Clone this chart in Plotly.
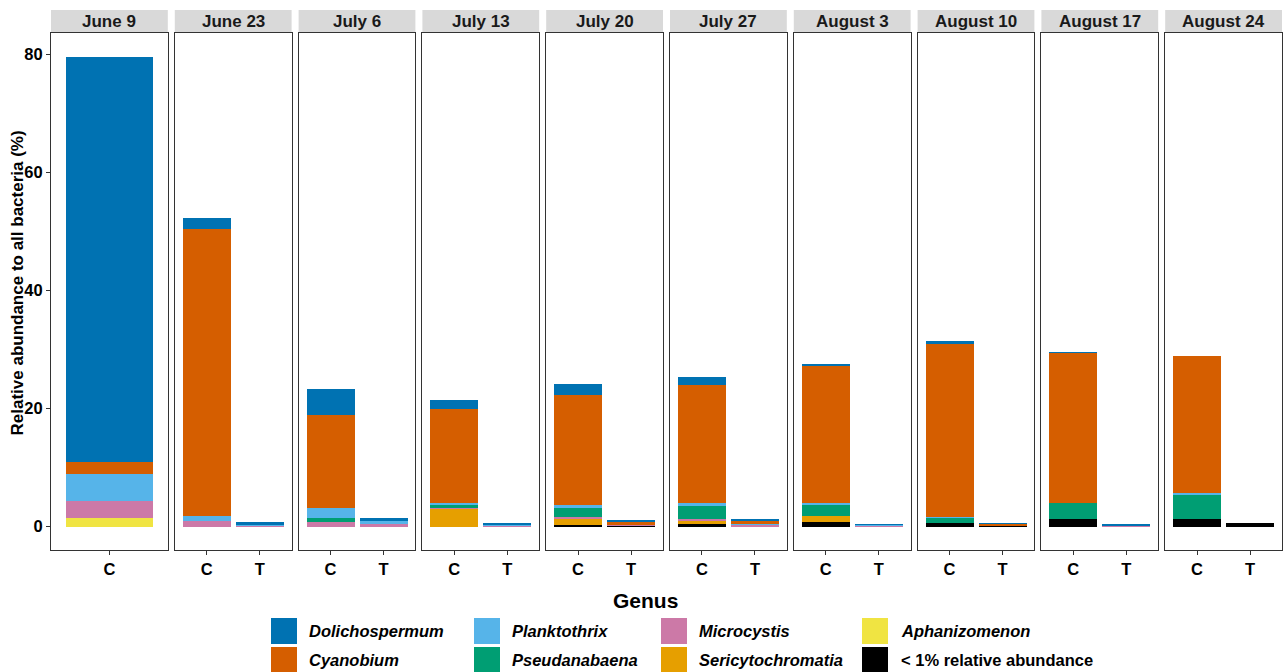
import plotly.graph_objects as go

# ---------------- data ----------------
dates = ["June 9", "June 23", "July 6", "July 13", "July 20", "July 27",
         "August 3", "August 10", "August 17", "August 24"]
treatments = [["C"]] + [["C", "T"]] * 9

# bar order: J9C, J23C, J23T, J6C, J6T, J13C, J13T, J20C, J20T, J27C, J27T,
#            A3C, A3T, A10C, A10T, A17C, A17T, A24C, A24T
genera = ["< 1% relative abundance", "Aphanizomenon", "Sericytochromatia", "Microcystis",
          "Pseudanabaena", "Planktothrix", "Cyanobium", "Dolichospermum"]

low_abund = [0, 0, 0, 0, 0, 0, 0, 0.3, 0.1, 0.5, 0.05, 0.7, 0, 0.6, 0.2, 1.25, 0.05, 1.2, 0.55]
aphanizomenon = [1.4, 0, 0, 0, 0, 0, 0, 0, 0, 0, 0, 0, 0, 0, 0, 0, 0, 0, 0]
sericytochromatia = [0, 0, 0, 0, 0, 3.05, 0, 1.05, 0, 0.45, 0, 1.0, 0, 0, 0, 0, 0, 0, 0]
microcystis = [3.0, 0.9, 0.15, 0.7, 0.5, 0.25, 0.2, 0.3, 0.15, 0.35, 0.25, 0, 0.2, 0, 0.05, 0, 0.15, 0, 0]
pseudanabaena = [0, 0, 0, 0.7, 0, 0.3, 0, 1.4, 0, 2.15, 0, 2.0, 0, 0.85, 0, 2.75, 0, 4.3, 0]
planktothrix = [4.45, 0.8, 0.05, 1.65, 0.4, 0.45, 0.1, 0.65, 0, 0.6, 0.1, 0.3, 0.15, 0.15, 0, 0.05, 0, 0.15, 0]
cyanobium = [2.05, 48.7, 0, 15.9, 0, 15.9, 0, 18.5, 0.6, 19.9, 0.65, 23.1, 0, 29.45, 0.25, 25.35, 0, 23.2, 0]
dolichospermum = [68.7, 1.9, 0.5, 4.35, 0.6, 1.45, 0.35, 1.9, 0.2, 1.35, 0.15, 0.4, 0.05, 0.3, 0.05, 0.15, 0.1, 0, 0]

series = [low_abund, aphanizomenon, sericytochromatia, microcystis,
          pseudanabaena, planktothrix, cyanobium, dolichospermum]
colors = {"Dolichospermum": "#0072B2", "Cyanobium": "#D55E00", "Planktothrix": "#56B4E9",
          "Pseudanabaena": "#009E73", "Microcystis": "#CC79A7", "Sericytochromatia": "#E69F00",
          "Aphanizomenon": "#F0E442", "< 1% relative abundance": "#000000"}

# legend layout (ggplot column-major order)
legend_order = ["Dolichospermum", "Cyanobium", "Planktothrix", "Pseudanabaena",
                "Microcystis", "Sericytochromatia", "Aphanizomenon", "< 1% relative abundance"]

y_ticks = [0, 20, 40, 60, 80]

# ---------------- layout geometry ----------------
W, H = 1283, 672
FONT = "Liberation Sans, Arial, sans-serif"
panel_left0, panel_w, gap = 51, 116.8, 7.0
panel_top, panel_bottom = 33, 550
strip_top = 10

def px_x(p):
    return p / W

def px_y(p):
    return (H - p) / H

fig = go.Figure()

idx = 0
panel_slices = []
for d, trs in zip(dates, treatments):
    panel_slices.append((idx, idx + len(trs)))
    idx += len(trs)

for pi, (d, trs) in enumerate(zip(dates, treatments)):
    s0, s1 = panel_slices[pi]
    xs = list(range(1, len(trs) + 1))
    ax = "" if pi == 0 else str(pi + 1)
    for g, vals in zip(genera, series):
        v = vals[s0:s1]
        fig.add_trace(go.Bar(
            x=xs, y=v, width=0.9, name=g,
            marker=dict(color=colors[g], line=dict(width=0)),
            showlegend=False,
            xaxis="x" + ax, yaxis="y" + ax,
            hovertemplate=d + " %{x}<br>" + g + ": %{y}<extra></extra>",
        ))

    left = panel_left0 + pi * (panel_w + gap)
    right = left + panel_w
    n = len(trs)
    xaxis = dict(
        domain=[px_x(left), px_x(right)],
        range=[0.4, n + 0.6],
        tickvals=xs, ticktext=trs,
        tickfont=dict(family=FONT, size=16.5, color="#000000", weight="bold"),
        ticks="outside", ticklen=4, tickcolor="#333333", tickwidth=1,
        showline=True, mirror=True, linecolor="#333333", linewidth=1,
        showgrid=False, zeroline=False, fixedrange=True,
        anchor="y" + ax,
    )
    yaxis = dict(
        domain=[px_y(panel_bottom), px_y(panel_top)],
        range=[-3.98, 83.58],
        showline=True, mirror=True, linecolor="#333333", linewidth=1,
        showgrid=False, zeroline=False, fixedrange=True,
        anchor="x" + ax,
    )
    if pi == 0:
        yaxis.update(tickvals=y_ticks, ticks="outside", ticklen=4, tickcolor="#333333",
                     tickfont=dict(family=FONT, size=16.5, color="#000000", weight="bold"))
    else:
        yaxis.update(showticklabels=False, ticks="")
    fig.update_layout({"xaxis" + ax: xaxis, "yaxis" + ax: yaxis})

    # strip
    fig.add_shape(type="rect", xref="paper", yref="paper",
                  x0=px_x(left), x1=px_x(right), y0=px_y(panel_top), y1=px_y(strip_top),
                  fillcolor="#D9D9D9", line=dict(width=0), layer="below")
    fig.add_annotation(x=px_x((left + right) / 2), y=px_y((strip_top + panel_top) / 2),
                       xref="paper", yref="paper", text="<b>" + d + "</b>", showarrow=False,
                       font=dict(family=FONT, size=17, color="#1A1A1A"),
                       xanchor="center", yanchor="middle")

# y-axis title
fig.add_annotation(x=px_x(17), y=px_y((panel_top + panel_bottom) / 2 - 8), xref="paper", yref="paper",
                   text="<b>Relative abundance to all bacteria (%)</b>", textangle=-90,
                   showarrow=False, font=dict(family=FONT, size=17, color="#000000"),
                   xanchor="center", yanchor="middle")

# legend title
fig.add_annotation(x=px_x(645), y=px_y(600), xref="paper", yref="paper",
                   text="<b>Genus</b>", showarrow=False,
                   font=dict(family=FONT, size=21, color="#000000"),
                   xanchor="center", yanchor="middle")

# manual legend (2 rows, column-major)
key_x = [271, 474, 661, 862]
text_x = [307, 510, 697, 899]
row_top = [618, 647]
key_size = 26
for k, g in enumerate(legend_order):
    col, row = k // 2, k % 2
    x0 = key_x[col]
    y0 = row_top[row]
    fig.add_shape(type="rect", xref="paper", yref="paper",
                  x0=px_x(x0), x1=px_x(x0 + key_size), y0=px_y(y0 + key_size), y1=px_y(y0),
                  fillcolor=colors[g], line=dict(width=0))
    if g.startswith("<"):
        label = "<b>&lt; 1% relative abundance</b>"
    else:
        label = "<b><i>" + g + "</i></b>"
    fig.add_annotation(x=px_x(text_x[col]), y=px_y(y0 + key_size / 2), xref="paper", yref="paper",
                       text=label, showarrow=False,
                       font=dict(family=FONT, size=16.5, color="#000000"),
                       xanchor="left", yanchor="middle")

fig.update_layout(
    width=W, height=H,
    margin=dict(l=0, r=0, t=0, b=0),
    paper_bgcolor="white", plot_bgcolor="white",
    barmode="stack", bargap=0,
    showlegend=False,
    font=dict(family=FONT),
)

fig.write_html("out.html",
               config={"displayModeBar": False},
               post_script="document.body.style.margin='0px';document.body.style.overflow='hidden';")
